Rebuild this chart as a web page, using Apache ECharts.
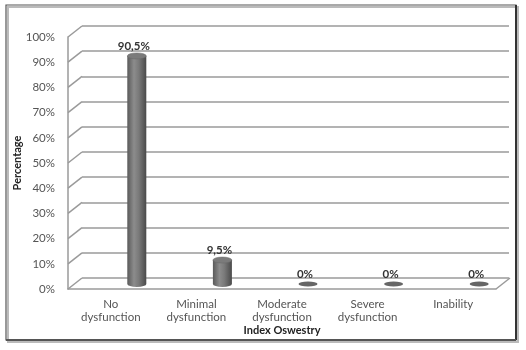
<!DOCTYPE html>
<html>
<head>
<meta charset="utf-8">
<script src="https://cdn.jsdelivr.net/npm/echarts@6/dist/echarts.min.js"></script>
<style>html,body{margin:0;padding:0;background:#fff}#c{width:526px;height:350px}</style>
</head>
<body>
<div id="c"></div>
<script>
var categories = ['No\ndysfunction', 'Minimal\ndysfunction', 'Moderate\ndysfunction', 'Severe\ndysfunction', 'Inability'];
var values = [90.5, 9.5, 0, 0, 0];
var yTicks = [0, 10, 20, 30, 40, 50, 60, 70, 80, 90, 100];
var xTitle = 'Index Oswestry';
var yTitle = 'Percentage';

var FONT = 'Lato';
var DX = 14, DY = -11; // depth offset of back wall

function fmt(v) { return String(v).replace('.', ',') + '%'; }

function ellipsePath(cx, cy, rx, ry) {
  return 'M' + (cx - rx) + ' ' + cy +
    ' A' + rx + ' ' + ry + ' 0 1 0 ' + (cx + rx) + ' ' + cy +
    ' A' + rx + ' ' + ry + ' 0 1 0 ' + (cx - rx) + ' ' + cy + ' Z';
}

var chart = echarts.init(document.getElementById('c'));
var option = {
  backgroundColor: '#fff',
  animation: false,
  textStyle: { fontFamily: FONT },
  grid: [
    { left: 68, right: 30, top: 37, bottom: 61 },
    { left: 68 + DX, right: 30 - DX + 1, top: 37 + DY, bottom: 61 - DY }
  ],
  xAxis: [
    {
      type: 'category', gridIndex: 0, data: categories,
      name: xTitle, nameLocation: 'middle', nameGap: 36, nameMoveOverlap: false,
      nameTextStyle: { fontFamily: FONT, fontSize: 11, fontWeight: 'bold', color: '#222' },
      axisLine: { show: true, lineStyle: { color: '#9a9a9a', width: 1.5 } },
      axisTick: { show: false },
      axisLabel: { margin: 9, fontFamily: FONT, fontSize: 11.5, color: '#555', lineHeight: 13, interval: 0 }
    },
    { type: 'category', gridIndex: 1, data: categories, show: false }
  ],
  yAxis: [
    {
      type: 'value', gridIndex: 0, min: 0, max: 100, interval: 10,
      name: yTitle, nameLocation: 'middle', nameGap: 51, nameRotate: 90, nameMoveOverlap: false,
      nameTextStyle: { fontFamily: FONT, fontSize: 11, fontWeight: 'bold', color: '#222', verticalAlign: 'middle' },
      axisLine: { show: true, lineStyle: { color: '#9a9a9a', width: 1.5 } },
      axisTick: { show: false },
      splitLine: { show: false },
      axisLabel: { margin: 13, fontFamily: FONT, fontSize: 11.5, color: '#555', formatter: '{value}%' }
    },
    {
      type: 'value', gridIndex: 1, min: 0, max: 100, interval: 10,
      axisLine: { show: false }, axisTick: { show: false }, axisLabel: { show: false },
      splitLine: { show: true, lineStyle: { color: '#9a9a9a', width: 1.5 } }
    }
  ],
  graphic: [
    { type: 'rect', shape: { x: 8, y: 7, width: 510, height: 335 }, style: { fill: 'none', stroke: '#bbb', lineWidth: 2 }, z: 0 },
    { type: 'rect', shape: { x: 6, y: 5, width: 510, height: 335 }, style: { fill: 'none', stroke: '#555', lineWidth: 1.2 }, z: 1 },
    { type: 'line', shape: { x1: 516, y1: 5, x2: 516, y2: 340 }, style: { stroke: '#333', lineWidth: 2 }, z: 1 },
    { type: 'line', shape: { x1: 6, y1: 340, x2: 516, y2: 340 }, style: { stroke: '#555', lineWidth: 2 }, z: 1 }
  ],
  series: [
    {
      type: 'custom', xAxisIndex: 0, yAxisIndex: 0,
      data: yTicks.map(function (t) { return [0, t]; }),
      silent: true, z: 1,
      renderItem: function (params, api) {
        var cs = params.coordSys;
        var y = api.coord([0, api.value(1)])[1];
        var children = [{
          type: 'line',
          shape: { x1: cs.x, y1: y, x2: cs.x + DX, y2: y + DY },
          style: { stroke: '#9a9a9a', lineWidth: 1.5 }
        }];
        if (api.value(1) === 0) {
          children.push({
            type: 'line',
            shape: { x1: cs.x + cs.width, y1: y, x2: cs.x + cs.width + DX, y2: y + DY },
            style: { stroke: '#9a9a9a', lineWidth: 1.5 }
          });
        }
        return { type: 'group', children: children };
      }
    },
    {
      type: 'custom', xAxisIndex: 0, yAxisIndex: 0,
      data: values.map(function (v, i) { return [i, v]; }),
      z: 3,
      renderItem: function (params, api) {
        var i = api.value(0), v = api.value(1);
        var base = api.coord([i, 0]);
        var top = api.coord([i, v]);
        var cx = base[0] + 26, by = base[1] - 5, ty = top[1] - 5;
        var rx = 9.5, ry = 3;
        var children = [];
        var grad = new echarts.graphic.LinearGradient(0, 0, 1, 0, [
          { offset: 0, color: '#5a5a5a' },
          { offset: 0.35, color: '#8c8c8c' },
          { offset: 0.6, color: '#7a7a7a' },
          { offset: 1, color: '#4a4a4a' }
        ]);
        if (v > 0) {
          children.push({
            type: 'path',
            shape: {
              pathData: 'M' + (cx - rx) + ' ' + ty + ' L' + (cx - rx) + ' ' + by +
                ' A' + rx + ' ' + ry + ' 0 0 0 ' + (cx + rx) + ' ' + by +
                ' L' + (cx + rx) + ' ' + ty + ' Z'
            },
            style: { fill: grad }
          });
          children.push({
            type: 'path',
            shape: { pathData: ellipsePath(cx, ty, rx, ry) },
            style: { fill: '#7b7b7b', stroke: '#666', lineWidth: 0.5 }
          });
        } else {
          children.push({
            type: 'path',
            shape: { pathData: ellipsePath(cx, by, rx, 2.5) },
            style: { fill: '#666' }
          });
        }
        children.push({
          type: 'text',
          style: {
            text: fmt(v), x: cx - 3, y: ty - 4,
            align: 'center', verticalAlign: 'bottom',
            font: 'bold 11.5px ' + FONT, fill: '#333'
          }
        });
        return { type: 'group', children: children };
      }
    }
  ]
};
chart.setOption(option);
</script>
</body>
</html>
